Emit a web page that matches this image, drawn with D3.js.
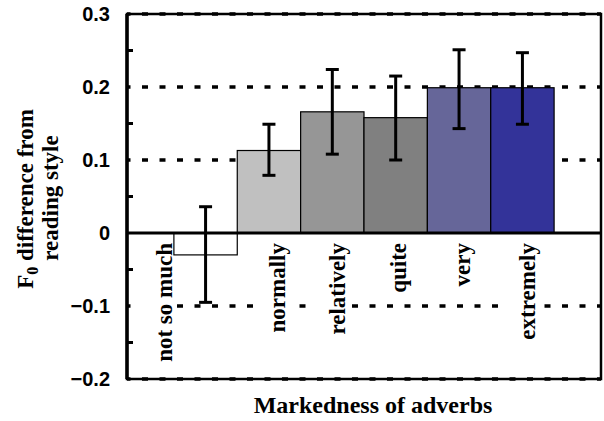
<!DOCTYPE html>
<html><head><meta charset="utf-8">
<script src="https://cdn.jsdelivr.net/npm/d3@7"></script>
<style>body{margin:0;background:#fff}svg{display:block}</style>
</head><body><svg id="c" width="604" height="421"></svg>
<script>
const categories = ["not so much","normally","relatively","quite","very","extremely"];
const means = [-0.030, 0.113, 0.166, 0.158, 0.199, 0.199];
const errLow = [-0.095, 0.079, 0.108, 0.100, 0.143, 0.149];
const errHigh = [0.036, 0.149, 0.224, 0.215, 0.251, 0.247];
const colors = ["#ffffff","#c0c0c0","#969696","#808080","#666699","#333399"];
const yTicks = [-0.2,-0.1,0,0.1,0.2,0.3];
const yTickLabels = ["\u22120.2","\u22120.1","0","0.1","0.2","0.3"];
const gridVals = [-0.2,-0.1,0.1,0.2,0.3];
const minorTicks = [-0.15,-0.05,0.05,0.15,0.25];

const W=604,H=421, m={l:127,r:3,t:14,b:42};
const svg=d3.select("#c");
const x=d3.scaleBand().domain(categories).range([m.l,W-m.r]).paddingInner(0).paddingOuter(0.74);
const y=d3.scaleLinear().domain([-0.2,0.3]).range([H-m.b,m.t]);
const data=categories.map((c,i)=>({c,v:means[i],lo:errLow[i],hi:errHigh[i],col:colors[i]}));
const serif="Liberation Serif, Times New Roman, serif";
const FS=23;

// gridlines
svg.append("g").selectAll("line").data(gridVals).join("line")
  .attr("x1",m.l).attr("x2",W-m.r).attr("y1",d=>y(d)).attr("y2",d=>y(d))
  .attr("stroke","#000").attr("stroke-width",3.5).attr("stroke-dasharray","6 11.5").attr("stroke-dashoffset",2.5);

// x category label groups (white backing drawn first)
const labelOffset = [-42, 8, 5, 2, 3, 5];
const bgG=svg.append("g"), txtG=[];
data.forEach((d,i)=>{
  const cx=x(d.c)+x.bandwidth()/2+labelOffset[i];
  const tr=`translate(${cx},${y(0)+10}) rotate(-90)`;
  const bg=bgG.append("rect").attr("transform",tr).attr("fill","#fff");
  txtG.push({tr,bg,d});
});

// bars
svg.append("g").selectAll("rect").data(data).join("rect")
  .attr("x",d=>x(d.c)).attr("width",x.bandwidth())
  .attr("y",d=>y(Math.max(0,d.v))).attr("height",d=>Math.abs(y(d.v)-y(0)))
  .attr("fill",d=>d.col).attr("stroke","#000").attr("stroke-width",1.2);

// zero line
svg.append("line").attr("x1",m.l).attr("x2",W-m.r).attr("y1",y(0)).attr("y2",y(0))
  .attr("stroke","#000").attr("stroke-width",3);

// label texts
const lg=svg.append("g");
txtG.forEach(o=>{
  const t=lg.append("text").attr("transform",o.tr).text(o.d.c).attr("text-anchor","end").attr("dy","0.35em")
    .attr("font-family",serif).attr("font-weight","bold").attr("font-size",FS);
  const b=t.node().getBBox();
  const base=0.35*FS;
  o.bg.attr("x",b.x-3).attr("y",base-32).attr("width",b.width+6).attr("height",37);
});

// error bars
const eb=svg.append("g").attr("stroke","#000").attr("stroke-width",3);
data.forEach(d=>{
  const cx=x(d.c)+x.bandwidth()/2;
  eb.append("line").attr("x1",cx).attr("x2",cx).attr("y1",y(d.lo)).attr("y2",y(d.hi));
  eb.append("line").attr("x1",cx-6.5).attr("x2",cx+6.5).attr("y1",y(d.lo)).attr("y2",y(d.lo));
  eb.append("line").attr("x1",cx-6.5).attr("x2",cx+6.5).attr("y1",y(d.hi)).attr("y2",y(d.hi));
});

// border
svg.append("rect").attr("x",m.l).attr("y",m.t).attr("width",W-m.r-m.l).attr("height",H-m.b-m.t)
  .attr("fill","none").attr("stroke","#000").attr("stroke-width",2.5);
svg.append("line").attr("x1",m.l).attr("x2",m.l).attr("y1",m.t).attr("y2",H-m.b).attr("stroke","#000").attr("stroke-width",3.5);

// y axis
const ax=svg.append("g").attr("transform",`translate(${m.l},0)`)
  .call(d3.axisLeft(y).tickValues(yTicks).tickFormat((d,i)=>yTickLabels[i]).tickSize(0).tickPadding(17));
ax.select(".domain").remove();
ax.selectAll("text").attr("font-family","Liberation Sans, Arial, sans-serif").attr("font-weight","bold").attr("font-size",20).attr("fill","#000");
svg.append("g").selectAll("line").data(minorTicks).join("line")
  .attr("x1",m.l).attr("x2",m.l+6).attr("y1",d=>y(d)).attr("y2",d=>y(d)).attr("stroke","#000").attr("stroke-width",3);

// y title
const yt=svg.append("text").attr("transform","translate(33,199) rotate(-90)").attr("text-anchor","middle")
  .attr("font-family",serif).attr("font-weight","bold").attr("font-size",23);
yt.append("tspan").text("F");
yt.append("tspan").text("0").attr("font-size",16).attr("dy",5);
yt.append("tspan").text(" difference from").attr("dy",-5);
svg.append("text").attr("transform","translate(58,198) rotate(-90)").attr("text-anchor","middle")
  .attr("font-family",serif).attr("font-weight","bold").attr("font-size",23)
  .text("reading style");

// x title
svg.append("text").attr("x",373).attr("y",413).attr("text-anchor","middle")
  .attr("font-family",serif).attr("font-weight","bold").attr("font-size",24)
  .text("Markedness of adverbs");
</script></body></html>
